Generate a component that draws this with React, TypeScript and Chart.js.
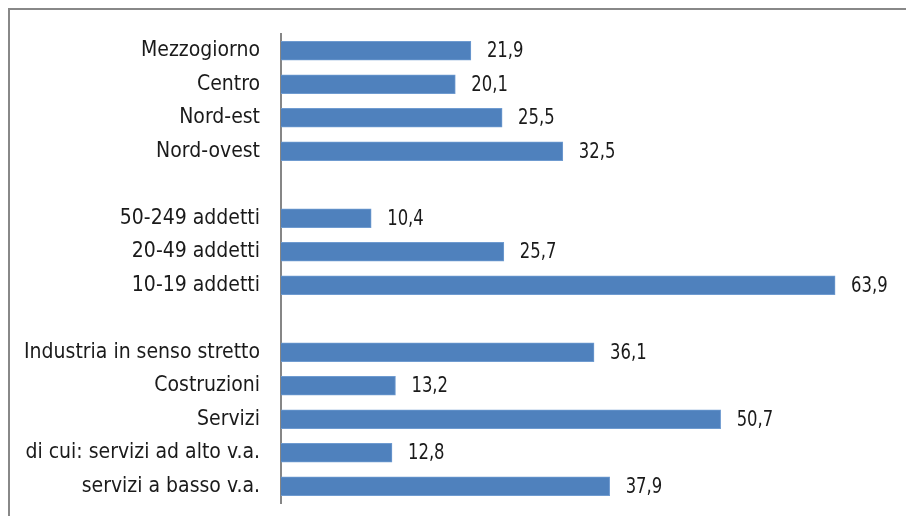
import React, { useEffect, useRef } from "react";
import { Chart, registerables } from "chart.js";

Chart.register(...registerables);

const categories: string[] = [
  "Mezzogiorno",
  "Centro",
  "Nord-est",
  "Nord-ovest",
  "",
  "50-249 addetti",
  "20-49 addetti",
  "10-19 addetti",
  "",
  "Industria in senso stretto",
  "Costruzioni",
  "Servizi",
  "di cui: servizi ad alto v.a.",
  "servizi a basso v.a.",
];

const values: (number | null)[] = [
  21.9, 20.1, 25.5, 32.5, null, 10.4, 25.7, 63.9, null, 36.1, 13.2, 50.7, 12.8, 37.9,
];

const LABEL_FONT = "'DejaVu Sans Condensed', 'DejaVu Sans', sans-serif";
const VALUE_FONT = "'DejaVu Sans Condensed', 'DejaVu Sans', sans-serif";

const valueLabels = {
  id: "valueLabels",
  afterDatasetsDraw(chart: any) {
    const ctx = chart.ctx;
    const meta = chart.getDatasetMeta(0);
    const sx = 0.87;
    meta.data.forEach((bar: any, i: number) => {
      const v = values[i];
      if (v === null) return;
      ctx.save();
      ctx.font = `21px ${VALUE_FONT}`;
      ctx.fillStyle = "#1a1a1a";
      ctx.textBaseline = "middle";
      ctx.textAlign = "left";
      ctx.translate(bar.x + 16, bar.y + 1);
      ctx.scale(sx, 1);
      ctx.fillText(v.toFixed(1).replace(".", ","), 0, 0);
      ctx.restore();
    });
  },
};

export default function App() {
  const ref = useRef<HTMLCanvasElement | null>(null);
  useEffect(() => {
    if (!ref.current) return;
    const chart = new Chart(ref.current, {
      type: "bar",
      data: {
        labels: categories,
        datasets: [
          {
            data: values,
            backgroundColor: "#4F81BD",
            borderColor: "#6f9bd0",
            borderWidth: 1,
            barThickness: 19,
          },
        ],
      },
      options: {
        indexAxis: "y",
        animation: false,
        responsive: false,
        maintainAspectRatio: false,
        layout: { padding: { top: 34, right: 18, bottom: 13, left: 0 } },
        plugins: { legend: { display: false }, tooltip: { enabled: false } },
        scales: {
          x: { display: false, min: 0, max: 70 },
          y: {
            afterFit(scale: any) {
              scale.width = 281;
              scale.paddingTop = 0;
              scale.paddingBottom = 0;
            },
            grid: { display: false, drawTicks: false },
            border: { display: true, color: "#868686", width: 2 },
            ticks: {
              padding: 21,
              color: "#1a1a1a",
              font: { family: LABEL_FONT, size: 21 },
              autoSkip: false,
            },
          },
        },
      },
      plugins: [valueLabels],
    });
    return () => chart.destroy();
  }, []);
  return (
    <div
      style={{
        position: "fixed",
        left: 0,
        top: 0,
        width: 906,
        height: 516,
        overflow: "hidden",
        background: "#ffffff",
      }}
    >
      <div
        style={{
          position: "absolute",
          left: 8,
          top: 8,
          width: 920,
          height: 530,
          boxSizing: "border-box",
          border: "2px solid #888888",
        }}
      />
      <canvas
        ref={ref}
        width={906}
        height={516}
        style={{ position: "absolute", left: 0, top: 0, display: "block" }}
      />
    </div>
  );
}
